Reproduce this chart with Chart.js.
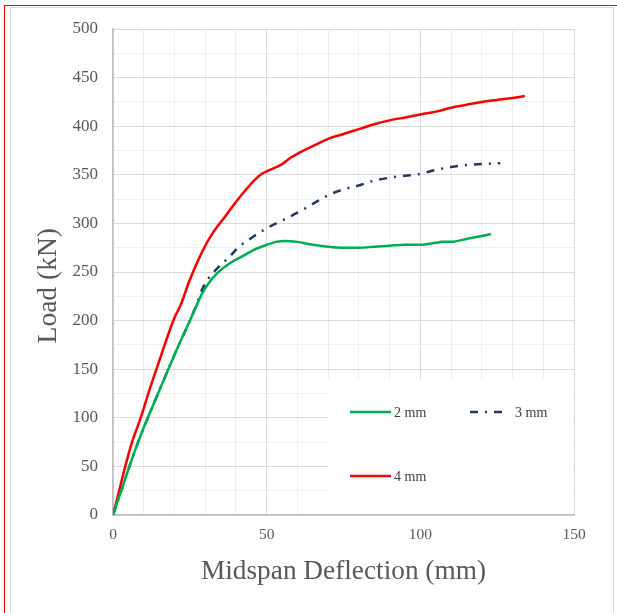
<!DOCTYPE html>
<html>
<head>
<meta charset="utf-8">
<script src="https://cdn.jsdelivr.net/npm/chart.js@4.4.0/dist/chart.umd.min.js"></script>
<style>
  html, body { margin: 0; padding: 0; background: #fff; }
  #wrap { position: relative; width: 617px; height: 613px; overflow: hidden; }
  #frame { position: absolute; left: 4px; top: 5px; width: 620px; height: 620px; border-left: 1.5px solid #f00; border-top: 1.5px solid #f00; }
  #inner { position: absolute; left: 10px; top: 7px; width: 602px; height: 620px; border: 1px solid #d9d9d9; }
  canvas { position: absolute; left: 0; top: 0; }
</style>
</head>
<body>
<div id="wrap">
  <div id="frame"></div>
  <div id="inner"></div>
  <canvas id="loadChart" width="617" height="613"></canvas>
</div>
<script>
// 各鋼板厚度的荷重-撓度曲線
const seriesNames = ['2 mm', '3 mm', '4 mm'];
const seriesColors = ['#00b050', '#1f3864', '#ff0000'];

const defl2 = [0, 3, 7, 10, 14, 18, 21, 24, 27, 29, 31, 34, 38, 42, 46, 50, 53, 56, 60, 65, 70, 75, 80, 85, 90, 95, 100, 105, 107, 110, 115, 120, 123];
const load2 = [0, 28, 65, 90, 120, 150, 172, 193, 214, 228, 238, 249, 259, 266, 273, 278, 281, 282, 281, 278, 276, 275, 275, 276, 277, 278, 278, 280, 281, 281, 284, 287, 289];

const defl3 = [0, 3, 7, 10, 14, 18, 21, 24, 27, 29, 31, 34, 38, 41, 45, 50, 55, 60, 65, 70, 75, 80, 85, 90, 95, 100, 105, 110, 115, 120, 126];
const load3 = [0, 28, 65, 90, 120, 150, 172, 193, 215, 232, 243, 254, 266, 276, 285, 295, 303, 311, 320, 329, 335, 339, 344, 347, 349, 351, 355, 358, 360, 361, 362];

const defl4 = [0, 2, 4, 6, 9, 12, 15, 18, 20, 22, 25, 28, 30, 32, 34, 36, 39, 42, 45, 48, 51, 55, 58, 62, 66, 70, 75, 80, 85, 90, 95, 100, 105, 110, 115, 120, 125, 130, 134];
const load4 = [0, 25, 50, 73, 100, 130, 158, 186, 203, 216, 242, 264, 277, 288, 297, 305, 318, 330, 341, 350, 355, 361, 368, 375, 381, 387, 392, 397, 402, 406, 409, 412, 415, 419, 422, 425, 427, 429, 431];

const xTitle = 'Midspan Deflection (mm)';
const yTitle = 'Load (kN)\u00a0\u00a0\u00a0\u00a0';  // 尾端空格把標題往下推一點

function toPoints(xs, ys) {
    return xs.map((x, i) => ({ x: x, y: ys[i] }));
}

const serif = '"Liberation Serif", "Times New Roman", serif';

// 圖內圖例：白底方框蓋住格線
const boxLegend = {
    id: 'boxLegend',
    beforeDatasetsDraw(chart) {
        const c = chart.ctx;
        const a = chart.chartArea;
        c.save();
        c.fillStyle = '#fff';
        c.fillRect(328, 380, a.right - 328 - 1, a.bottom - 380 - 1);

        const ds = chart.data.datasets;
        const items = [
            { d: ds[0], x: 350, y: 412 },
            { d: ds[1], x: 470, y: 412, w: 35, tx: 515 },
            { d: ds[2], x: 350, y: 476 }
        ];
        items.forEach(it => {
            const w = it.w || 41;
            c.strokeStyle = it.d.borderColor;
            c.lineWidth = 2.5;
            c.setLineDash(it.d.borderDash || []);
            c.beginPath();
            c.moveTo(it.x, it.y);
            c.lineTo(it.x + w, it.y);
            c.stroke();
            c.setLineDash([]);
            c.fillStyle = '#404040';
            c.font = '14px ' + serif;
            c.textBaseline = 'middle';
            c.fillText(it.d.label, it.tx || (it.x + w + 3), it.y + 1);
        });
        c.restore();
    }
};

const ctx = document.getElementById('loadChart').getContext('2d');
const myChart = new Chart(ctx, {
    type: 'scatter',
    data: {
        datasets: [
            { label: seriesNames[0], data: toPoints(defl2, load2), borderColor: seriesColors[0], borderWidth: 2.5 },
            { label: seriesNames[1], data: toPoints(defl3, load3), borderColor: seriesColors[1], borderWidth: 2.5, borderDash: [8, 7, 2, 7] },
            { label: seriesNames[2], data: toPoints(defl4, load4), borderColor: seriesColors[2], borderWidth: 2.5 }
        ].map(d => Object.assign(d, { showLine: true, pointRadius: 0, cubicInterpolationMode: 'monotone', backgroundColor: d.borderColor }))
    },
    options: {
        responsive: false,
        animation: false,
        devicePixelRatio: 1,
        layout: { padding: { left: 0, top: 29, right: 43, bottom: 0 } },
        plugins: { legend: { display: false }, tooltip: { enabled: false } },
        scales: {
            x: {
                type: 'linear', min: 0, max: 150,
                afterFit: s => { s.height = 98; },
                ticks: {
                    stepSize: 10, autoSkip: false, maxRotation: 0, padding: 11,
                    color: '#595959', font: { family: serif, size: 15.5 },
                    callback: v => (v % 50 === 0 ? v : '')
                },
                grid: {
                    drawTicks: false,
                    color: c => (c.tick && c.tick.value % 50 === 0 ? '#d9d9d9' : '#efefef')
                },
                border: { color: '#bfbfbf', width: 1.5 },
                title: {
                    display: true, text: xTitle, color: '#595959',
                    font: { family: serif, size: 27.3 }, padding: { top: 0, bottom: 25 }
                }
            },
            y: {
                min: 0, max: 500,
                afterFit: s => { s.width = 113; },
                ticks: {
                    stepSize: 25, autoSkip: false, padding: 15,
                    color: '#595959', font: { family: serif, size: 17 },
                    callback: v => (v % 50 === 0 ? v : '')
                },
                grid: {
                    drawTicks: false,
                    color: c => (c.tick && c.tick.value % 50 === 0 ? '#d9d9d9' : '#efefef')
                },
                border: { color: '#bfbfbf', width: 1.5 },
                title: {
                    display: true, text: yTitle, color: '#595959',
                    font: { family: serif, size: 27.5 }, padding: { top: 32, bottom: 0 }
                }
            }
        }
    },
    plugins: [boxLegend]
});
</script>
</body>
</html>
